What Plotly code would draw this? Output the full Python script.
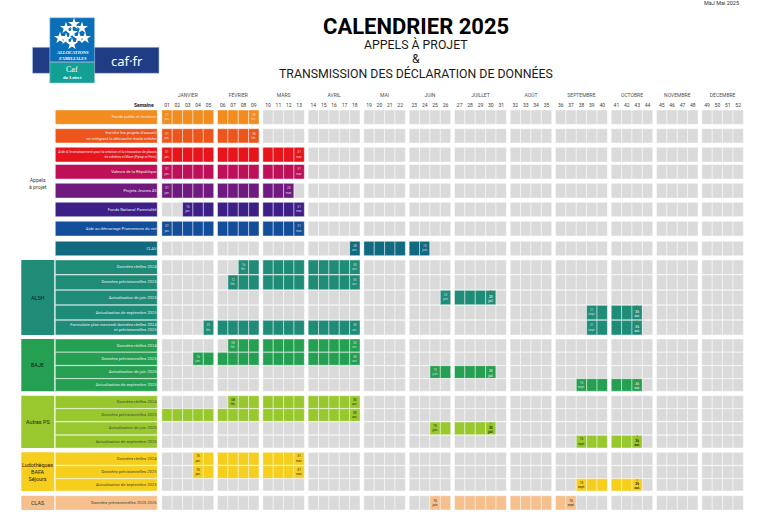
"""CALENDRIER 2025 : appels à projet et transmission des déclarations de données."""

import plotly.graph_objects as go

months = ["JANVIER", "FÉVRIER", "MARS", "AVRIL", "MAI", "JUIN", "JUILLET", "AOÛT",
          "SEPTEMBRE", "OCTOBRE", "NOVEMBRE", "DÉCEMBRE"]
month_weeks = [(1, 5), (6, 9), (10, 13), (14, 18), (19, 22), (23, 26), (27, 31),
               (32, 35), (36, 40), (41, 44), (45, 48), (49, 52)]

row_labels = [
    "Fonds public et territoire",
    "Enrichir les projets d'accueil<br>en intégrant la démarche écolo crèche",
    "Aide à l'investissement pour la création et la rénovation de places<br>de crèches et Mam (Ppicp et Fmir)",
    "Valeurs de la République",
    "Projets Jeunes 45",
    "Fonds National Parentalité",
    "Aide au démarrage Promeneurs du net",
    "CLAS",
    "Données réelles 2024",
    "Données prévisionnelles 2025",
    "Actualisation de juin 2025",
    "Actualisation de septembre 2025",
    "Formulaire plan mercredi données réelles 2024<br>et prévisionnelles 2025",
    "Données réelles 2024",
    "Données prévisionnelles 2025",
    "Actualisation de juin 2025",
    "Actualisation de septembre 2025",
    "Données réelles 2024",
    "Données prévisionnelles 2025",
    "Actualisation de juin 2025",
    "Actualisation de septembre 2025",
    "Données réelles 2024",
    "Données prévisionnelles 2025",
    "Actualisation de septembre 2025",
    "Données prévisionnelles 2025-2026",
]
row_colors = (
    ["#F28C1E", "#EC561C", "#E8141C", "#BE1058", "#701A80", "#3C2088", "#124E9A", "#116A80"]
    + ["#1F8C78"] * 5 + ["#25A052"] * 4 + ["#98C82E"] * 4 + ["#F6CE1E"] * 3 + ["#F6C08E"]
)
row_spans = [
    [(1, 9)], [(1, 9)], [(1, 13)], [(1, 13)], [(1, 12)], [(3, 13)], [(1, 13)], [(18, 24)],
    [(8, 18)], [(7, 18)], [(26, 30)], [(39, 43)], [(5, 18), (39, 43)],
    [(7, 18)], [(4, 18)], [(25, 30)], [(38, 43)],
    [(7, 18)], [(1, 18)], [(25, 30)], [(38, 43)],
    [(4, 13)], [(4, 13)], [(38, 43)],
    [(25, 37)],
]
# (week, date text, urgent) written inside a cell
row_dates = [
    [(1, "01<br>jan.", 0), (9, "28<br>fév.", 0)],
    [(1, "01<br>jan.", 0), (9, "28<br>fév.", 0)],
    [(1, "01<br>jan.", 0), (13, "31<br>mar.", 0)],
    [(1, "01<br>jan.", 0), (13, "31<br>mar.", 0)],
    [(1, "01<br>jan.", 0), (12, "23<br>mar.", 0)],
    [(3, "15<br>jan.", 0), (13, "31<br>mar.", 0)],
    [(1, "01<br>jan.", 0), (13, "31<br>mar.", 0)],
    [(18, "28<br>avr.", 0), (24, "15<br>juin", 0)],
    [(8, "16<br>fév.", 0), (18, "30<br>avr.", 0)],
    [(7, "12<br>fév.", 0), (18, "30<br>avr.", 0)],
    [(26, "23<br>juin", 0), (30, "20<br>juil.", 1)],
    [(39, "21<br>sept.", 0), (43, "26<br>oct.", 1)],
    [(5, "01<br>fév.", 0), (18, "30<br>avr.", 0), (39, "21<br>sept.", 0), (43, "26<br>oct.", 1)],
    [(7, "08<br>fév.", 0), (18, "30<br>avr.", 0)],
    [(4, "15<br>jan.", 0), (18, "30<br>avr.", 0)],
    [(25, "15<br>juin", 0), (30, "20<br>juil.", 1)],
    [(38, "15<br>sept.", 0), (43, "26<br>oct.", 1)],
    [(7, "08<br>fév.", 0), (18, "30<br>avr.", 0)],
    [(18, "30<br>avr.", 0)],
    [(25, "15<br>juin", 0), (30, "20<br>juil.", 1)],
    [(38, "15<br>sept.", 0), (43, "26<br>oct.", 1)],
    [(4, "15<br>jan.", 0), (13, "31<br>mar.", 0)],
    [(4, "15<br>jan.", 0), (13, "31<br>mar.", 0)],
    [(38, "15<br>sept.", 0), (43, "26<br>oct.", 1)],
    [(25, "15<br>juin", 0), (37, "15<br>sept.", 0)],
]
# group block: (first row, last row, label, fill, text colour)
groups = [
    (8, 12, "ALSH", "#1F8C78", "#102020"),
    (13, 16, "BAJE", "#25A052", "#102020"),
    (17, 20, "Autres PS", "#98C82E", "#202810"),
    (21, 23, "Ludothèques<br>BAFA<br>Séjours", "#F6CE1E", "#2A2410"),
    (24, 24, "CLAS", "#F6C08E", "#403020"),
]

# page geometry, in pixels of the 768x512 picture
row_top = [110, 128.7, 147.3, 164.5, 183.3, 202.3, 221.3, 241.3,
           260, 275, 290.3, 305.3, 320.3,
           339, 352.3, 365.7, 378.7,
           395.7, 408.7, 422, 435.3,
           452.3, 465.7, 478.7,
           495.7]
row_bottom = [124.3, 143, 162, 179, 198, 216.7, 236, 255.7,
              274.5, 289.8, 304.8, 319.8, 335,
              352, 365.3, 378.4, 391.3,
              408.4, 421.4, 434.8, 448,
              465.2, 478.4, 491,
              510]
WEEK_PITCH = 10.38
MONTH_GAP = 3.8
FIRST_WEEK_X = 167.0
LIGHT = "#E8E8E8"
DARK = "#4A4A30"


def week_x(week):
    month = next(i for i, (a, b) in enumerate(month_weeks) if a <= week <= b)
    return FIRST_WEEK_X + (week - 1) * WEEK_PITCH + month * MONTH_GAP


def is_dark_text(color):
    return color in ("#98C82E", "#F6CE1E", "#F6C08E")


all_weeks = list(range(1, 53))
fig = go.Figure()

# calendar grid
cell_x, cell_base, cell_h, cell_color = [], [], [], []
for top, bottom, color, spans in zip(row_top, row_bottom, row_colors, row_spans):
    for week in all_weeks:
        active = any(a <= week <= b for a, b in spans)
        cell_x.append(week_x(week))
        cell_base.append(top)
        cell_h.append(bottom - top)
        cell_color.append(color if active else "#DADADA")
fig.add_trace(go.Bar(
    x=cell_x, y=cell_h, base=cell_base, width=WEEK_PITCH,
    marker=dict(color=cell_color, line=dict(color="rgba(255,255,255,0.55)", width=0.8)),
    hoverinfo="skip",
))

# row label blocks
fig.add_trace(go.Bar(
    x=[106.3] * len(row_top), y=[b - t for t, b in zip(row_top, row_bottom)], base=row_top,
    width=102,
    marker=dict(color=row_colors, line=dict(color="rgba(255,255,255,0.55)", width=0.8)),
    hoverinfo="skip",
))
label_sizes = [3.4 if "investissement" in label else 4.15 for label in row_labels]
fig.add_trace(go.Scatter(
    x=[156.5] * len(row_labels),
    y=[(t + b) / 2 for t, b in zip(row_top, row_bottom)],
    text=row_labels, mode="text", textposition="middle left",
    textfont=dict(family="Roboto", size=label_sizes,
                  color=[DARK if is_dark_text(c) else LIGHT for c in row_colors]),
    hoverinfo="skip",
))

# group blocks
for first, last, label, fill, ink in groups:
    fig.add_shape(type="rect", x0=21.3, x1=54.3, y0=row_top[first], y1=row_bottom[last],
                  fillcolor=fill, line=dict(width=0), layer="below")
    fig.add_annotation(x=37.8, y=(row_top[first] + row_bottom[last]) / 2, text=label,
                       showarrow=False, font=dict(family="Roboto", size=5.4, color=ink))
fig.add_annotation(x=38, y=183, text="Appels<br>à projet", showarrow=False,
                   font=dict(family="Roboto", size=5.2, color="#404040"))

# dates inside the cells
date_x, date_y, date_text, date_ink = [], [], [], []
mark_x, mark_y = [], []
for top, bottom, color, dates in zip(row_top, row_bottom, row_colors, row_dates):
    for week, text, urgent in dates:
        date_x.append(week_x(week))
        date_y.append((top + bottom) / 2 + (1.6 if urgent else 0))
        date_text.append(f"<b>{text}</b>" if urgent else text)
        date_ink.append("#222214" if is_dark_text(color) else "#DDDDDD")
        if urgent:
            mark_x.append(week_x(week))
            mark_y.append(top + 2.6)
fig.add_trace(go.Scatter(
    x=date_x, y=date_y, text=date_text, mode="text",
    textfont=dict(family="Roboto", size=3.2, color=date_ink), hoverinfo="skip",
))
fig.add_trace(go.Scatter(
    x=mark_x, y=mark_y, text=["!"] * len(mark_x), mode="text",
    textfont=dict(family="Roboto", size=5, color="#D8281C"), hoverinfo="skip",
))

# week and month headers
fig.add_trace(go.Scatter(
    x=[week_x(w) for w in all_weeks], y=[105.3] * 52,
    text=[f"{w:02d}" for w in all_weeks], mode="text",
    textfont=dict(family="Roboto", size=5, color="#404040"), hoverinfo="skip",
))
fig.add_trace(go.Scatter(
    x=[(week_x(a) + week_x(b)) / 2 for a, b in month_weeks], y=[96] * 12,
    text=months, mode="text",
    textfont=dict(family="Roboto", size=5, color="#505050"), hoverinfo="skip",
))
fig.add_annotation(x=156, y=105.3, text="<b>Semaine</b>", showarrow=False, xanchor="right",
                   font=dict(family="Roboto", size=5, color="#202020"))

# titles
fig.add_annotation(x=416, y=26, text="<b>CALENDRIER 2025</b>", showarrow=False,
                   font=dict(family="Roboto", size=22, color="#000000"))
for y, text in [(44, "APPELS À PROJET"), (59, "&"), (73, "TRANSMISSION DES DÉCLARATION DE DONNÉES")]:
    fig.add_annotation(x=416, y=y, text=text, showarrow=False,
                       font=dict(family="Roboto", size=12.3, color="#1A1A1A"))
fig.add_annotation(x=739, y=0, text="MàJ Mai 2025", showarrow=False, xanchor="right", yanchor="top",
                   borderpad=0, borderwidth=0,
                   font=dict(family="Roboto", size=5.5, color="#303030"))

# CAF logo
logo_edge = dict(width=0.6, color="#B4C8E4")
fig.add_shape(type="rect", x0=32.5, x1=159, y0=47.3, y1=73.3, fillcolor="#1F3C84", line=logo_edge, layer="below")
fig.add_shape(type="rect", x0=49.8, x1=94.6, y0=17.7, y1=62, fillcolor="#0A6FB7", line=logo_edge, layer="below")
fig.add_shape(type="rect", x0=49.8, x1=94.6, y0=62.3, y1=83, fillcolor="#12A094", line=logo_edge, layer="below")
fig.add_trace(go.Scatter(
    x=[74, 66, 82, 60, 85, 72, 66, 79, 72],
    y=[24, 28, 28, 38, 38, 33, 39, 38, 44],
    mode="markers", marker=dict(symbol="star", size=9, color="white", line=dict(width=0)),
    hoverinfo="skip",
))
fig.add_annotation(x=72.2, y=55.5, text="<b><i>ALLOCATIONS<br>FAMILIALES</i></b>", showarrow=False,
                   font=dict(family="Liberation Serif", size=4.6, color="white"))
fig.add_annotation(x=72.2, y=69, text="Caf", showarrow=False,
                   font=dict(family="Liberation Serif", size=8, color="white"))
fig.add_annotation(x=72.2, y=77, text="<b>du Loiret</b>", showarrow=False,
                   font=dict(family="Liberation Serif", size=4.6, color="white"))
fig.add_annotation(x=126.5, y=61, text="caf·fr", showarrow=False,
                   font=dict(family="Noto Sans", size=13, color="white"))

fig.update_layout(
    width=768, height=512, margin=dict(l=0, r=0, t=0, b=0),
    plot_bgcolor="white", paper_bgcolor="white",
    showlegend=False, barmode="overlay",
    xaxis=dict(range=[0, 768], visible=False, fixedrange=True),
    yaxis=dict(range=[512, 0], visible=False, fixedrange=True),
)
fig.write_html("out.html", post_script="document.body.style.margin='0';", config={"displayModeBar": False})
